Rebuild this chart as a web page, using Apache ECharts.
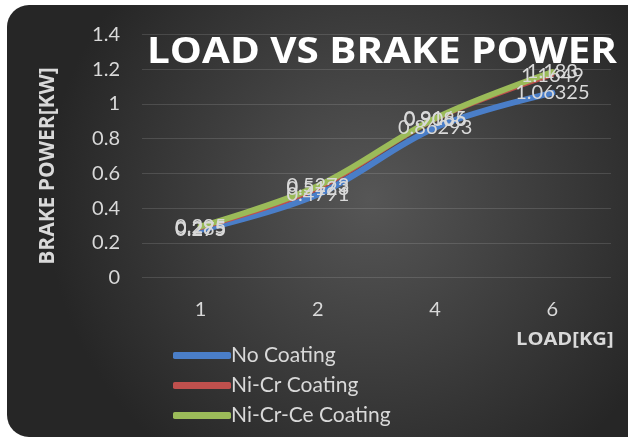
<!DOCTYPE html>
<html><head><meta charset="utf-8">
<script src="https://cdn.jsdelivr.net/npm/echarts@6/dist/echarts.min.js"></script>
<style>html,body{margin:0;padding:0;background:#fff}#c{width:628px;height:441px}</style>
</head><body><div id="c"></div>
<script>
const categories = ['1', '2', '4', '6'];
const noCoating = [0.275, 0.4791, 0.86293, 1.06325];
const niCr = [0.285, 0.5123, 0.9086, 1.1649];
const niCrCe = [0.295, 0.5273, 0.9165, 1.183];
const seriesNames = ['No Coating', 'Ni-Cr Coating', 'Ni-Cr-Ce Coating'];
const yTicks = [0, 0.2, 0.4, 0.6, 0.8, 1, 1.2, 1.4];

const FONT = 'Lato';
const TXT = '#d9d9d9';
const chart = echarts.init(document.getElementById('c'), null, {renderer: 'canvas'});
function mk(name, data, color, width) {
  return {
    name, type: 'line', data, smooth: 0.35,
    symbol: 'circle', symbolSize: 0.1, showSymbol: true,
    lineStyle: {color, width, cap: 'round'},
    itemStyle: {color},
    label: {show: true, position: 'inside', color: TXT, fontFamily: FONT, fontSize: 20,
      formatter: p => String(p.value)},
    emphasis: {disabled: true}
  };
}
chart.setOption({
  backgroundColor: '#ffffff',
  animation: false,
  graphic: [{
    type: 'rect', z: -10, silent: true,
    shape: {x: 7, y: 5, width: 660, height: 432, r: 22},
    style: {fill: {type: 'radial', x: 0.55, y: 0.45, r: 0.75,
      colorStops: [{offset: 0, color: '#565656'}, {offset: 1, color: '#262626'}]}}
  }, {
    type: 'text', z: 10, x: 147, y: 53, scaleX: 1.155,
    style: {text: 'LOAD VS BRAKE POWER', fill: '#ffffff', font: 'bold 35px "Open Sans"',
      verticalAlign: 'middle',
      shadowColor: 'rgba(0,0,0,0.6)', shadowBlur: 4, shadowOffsetX: 1, shadowOffsetY: 2}
  }, {
    type: 'text', x: 516, y: 340, scaleX: 1.12,
    style: {text: 'LOAD[KG]', fill: TXT, font: 'bold 18px "Open Sans"', verticalAlign: 'middle'}
  }, {
    type: 'text', x: 48, y: 166, rotation: Math.PI / 2,
    style: {text: 'BRAKE POWER[KW]', fill: TXT, font: 'bold 21px "Open Sans"',
      align: 'center', verticalAlign: 'middle'}
  }],
  grid: {left: 142, right: 17, top: 34.3, bottom: 163.3, containLabel: false},
  xAxis: {
    type: 'category', data: categories, boundaryGap: true,
    axisLine: {show: false}, axisTick: {show: false},
    axisLabel: {color: TXT, fontFamily: FONT, fontSize: 20, margin: 22}
  },
  yAxis: {
    type: 'value', min: yTicks[0], max: yTicks[yTicks.length - 1], interval: 0.2,
    axisLine: {show: false}, axisTick: {show: false},
    axisLabel: {color: TXT, fontFamily: FONT, fontSize: 20, margin: 22,
      formatter: v => String(Math.round(v * 10) / 10)},
    splitLine: {lineStyle: {color: 'rgba(255,255,255,0.13)', width: 1}}
  },
  legend: {
    orient: 'vertical', left: 168, top: 340, itemWidth: 58, itemHeight: 7, itemGap: 9,
    icon: 'roundRect',
    textStyle: {color: TXT, fontFamily: FONT, fontSize: 21, lineHeight: 20, padding: [0, 0, 0, -5]},
    data: seriesNames
  },
  series: [
    mk(seriesNames[0], noCoating, '#4a7ec8', 6),
    mk(seriesNames[1], niCr, '#c0504d', 4),
    mk(seriesNames[2], niCrCe, '#9bbb59', 6)
  ]
});
</script></body></html>
